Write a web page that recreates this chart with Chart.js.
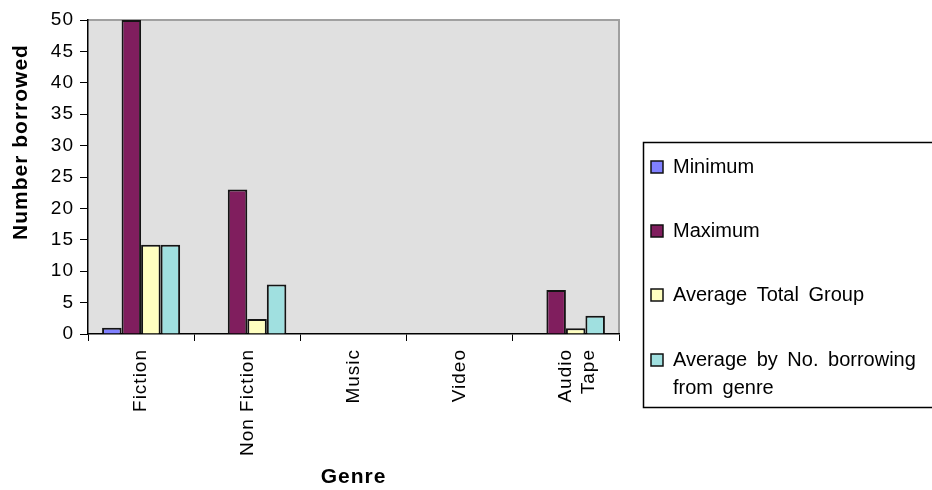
<!DOCTYPE html>
<html>
<head>
<meta charset="utf-8">
<script src="https://cdn.jsdelivr.net/npm/chart.js@4/dist/chart.umd.min.js"></script>
<style>
  html, body { margin: 0; padding: 0; background: #ffffff; }
  #wrap { width: 932px; height: 490px; position: relative; }
</style>
</head>
<body>
<div id="wrap"><canvas id="chart" width="932" height="490"></canvas></div>
<script>
// Borrowing statistics per genre
const genres = ['Fiction', 'Non Fiction', 'Music', 'Video', ['Audio', 'Tape']];
const minimum = [1, 0, 0, 0, 0];
const maximum = [50, 23, 0, 0, 7];
const averageTotalGroup = [14.2, 2.4, 0, 0, 0.9];
const averageByGenre = [14.2, 7.9, 0, 0, 2.9];
const seriesNames = ['Minimum', 'Maximum', 'Average Total Group', ['Average by No. borrowing', 'from genre']];
const yTicks = { min: 0, max: 50, step: 5 };

const FONT = '"Liberation Sans", Arial, sans-serif';
const colors = ['#8080ff', '#801e5e', '#ffffc0', '#a0e0e0'];

// plot background, frame, axis titles and the boxed legend
const decor = {
  id: 'decor',
  beforeUpdate(chart) { chart.ctx.letterSpacing = '1px'; },
  beforeDraw(chart) {
    const { ctx, chartArea: a } = chart;
    ctx.save();
    ctx.fillStyle = '#e0e0e0';
    ctx.fillRect(a.left, a.top, a.right - a.left, a.bottom - a.top);
    ctx.strokeStyle = '#a0a0a0';
    ctx.lineWidth = 2;
    ctx.beginPath();
    ctx.moveTo(a.left, a.top);
    ctx.lineTo(a.right, a.top);
    ctx.lineTo(a.right, a.bottom);
    ctx.stroke();
    ctx.restore();
  },
  afterDraw(chart) {
    const { ctx, chartArea: a } = chart;
    ctx.save();
    ctx.fillStyle = '#000';
    // y axis title
    ctx.letterSpacing = '1px';
    ctx.font = 'bold 21px ' + FONT;
    ctx.textAlign = 'center';
    ctx.textBaseline = 'middle';
    ctx.save();
    ctx.translate(21, 142);
    ctx.rotate(-Math.PI / 2);
    ctx.fillText('Number borrowed', 0, 0);
    ctx.restore();
    // x axis title
    ctx.fillText('Genre', (a.left + a.right) / 2, 477);

    // legend
    ctx.letterSpacing = '0px';
    ctx.wordSpacing = '4px';
    ctx.lineWidth = 1.5;
    ctx.strokeStyle = '#000';
    ctx.strokeRect(643.5, 142.5, 320, 265);
    ctx.font = '20px ' + FONT;
    ctx.textAlign = 'left';
    ctx.textBaseline = 'alphabetic';
    const rowY = [173, 237, 301, 366];
    chart.data.datasets.forEach((ds, i) => {
      const y = rowY[i];
      ctx.fillStyle = ds.backgroundColor;
      ctx.fillRect(651, y - 12, 12, 12);
      ctx.lineWidth = 1.5;
      ctx.strokeStyle = '#111';
      ctx.strokeRect(651, y - 12, 12, 12);
      ctx.fillStyle = '#000';
      const lines = [].concat(seriesNames[i]);
      lines.forEach((t, j) => ctx.fillText(t, 673, y + j * 28));
    });
    ctx.restore();
  }
};

const series = [minimum, maximum, averageTotalGroup, averageByGenre];

new Chart(document.getElementById('chart'), {
  type: 'bar',
  data: {
    labels: genres,
    datasets: series.map((d, i) => ({
      label: [].concat(seriesNames[i]).join(' '),
      data: d,
      backgroundColor: colors[i],
      borderColor: '#141414',
      borderWidth: 2,
      categoryPercentage: 0.735,
      barPercentage: 1.0
    }))
  },
  options: {
    responsive: false,
    animation: false,
    devicePixelRatio: 1,
    layout: { padding: { top: 20, right: 313, left: 0, bottom: 0 } },
    plugins: { legend: { display: false }, tooltip: { enabled: false } },
    scales: {
      x: {
        grid: { offset: true, drawOnChartArea: false, tickLength: 7, color: '#000', lineWidth: 1 },
        border: { color: '#000', width: 1.5 },
        ticks: {
          color: '#000', autoSkip: false, maxRotation: 90, minRotation: 90, padding: 8,
          font: { family: FONT, size: 19 }
        },
        afterFit(s) { s.height = 156; }
      },
      y: {
        min: yTicks.min, max: yTicks.max,
        grid: { drawOnChartArea: false, tickLength: 8, color: '#000', lineWidth: 1 },
        border: { color: '#000', width: 1.5 },
        ticks: { stepSize: yTicks.step, color: '#000', padding: 6, font: { family: FONT, size: 19 } },
        afterFit(s) { s.width = 88; }
      }
    }
  },
  plugins: [decor]
});
</script>
</body>
</html>
